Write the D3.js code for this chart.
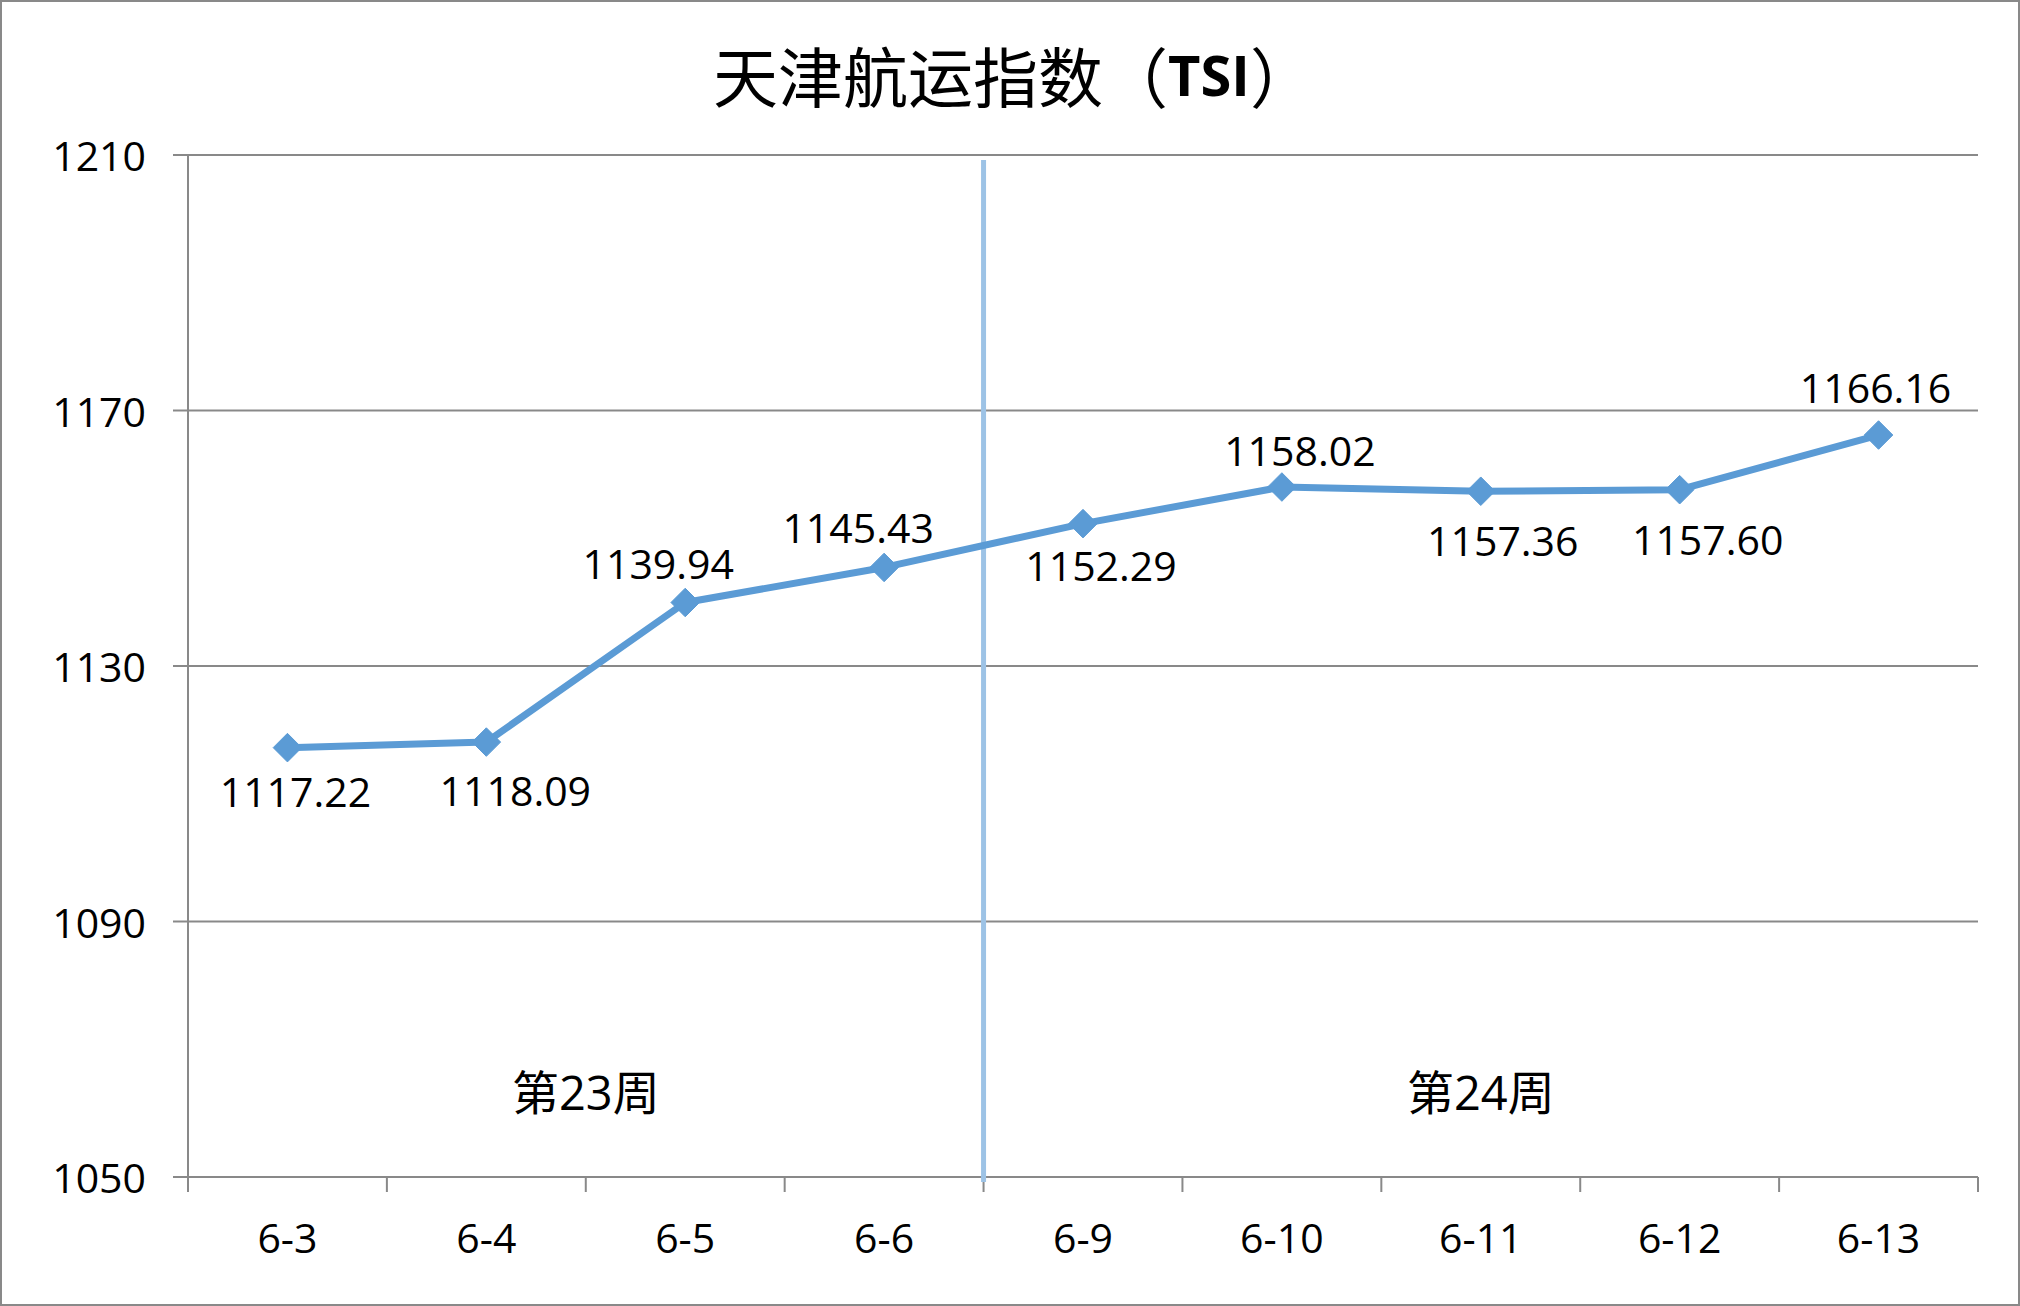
<!DOCTYPE html>
<html>
<head>
<meta charset="utf-8">
<script src="https://cdnjs.cloudflare.com/ajax/libs/d3/7.8.5/d3.min.js"></script>
<style>
  html, body { margin: 0; padding: 0; background: #fff; }
  svg { display: block; }
</style>
</head>
<body>
<svg id="chart" width="2020" height="1306"></svg>
<script>
// ---- data ----
const categories = ["6-3", "6-4", "6-5", "6-6", "6-9", "6-10", "6-11", "6-12", "6-13"];
const values = [1117.22, 1118.09, 1139.94, 1145.43, 1152.29, 1158.02, 1157.36, 1157.60, 1166.16];
const valueLabels = ["1117.22", "1118.09", "1139.94", "1145.43", "1152.29", "1158.02", "1157.36", "1157.60", "1166.16"];
const yTicks = [1050, 1090, 1130, 1170, 1210];
const weeks = [
  { name: "第23周", cats: ["6-3", "6-4", "6-5", "6-6"] },
  { name: "第24周", cats: ["6-9", "6-10", "6-11", "6-12", "6-13"] }
];
const titleMain = "天津航运指数（";
const titleBold = "TSI";
const titleEnd = "）";

// ---- layout (label offsets in px) ----
const labelDx = [8, 29, -27, -26, 18, 18, 22, 28, -3];
const labelDy = [43, 48, -40, -40, 41, -37, 49, 49, -48];

const W = 2020, H = 1306;
const pL = 188, pR = 1978, pT = 155, pB = 1177;
const numFont = "'Open Sans', 'Liberation Sans', sans-serif";
const cjkFont = "'Noto Sans CJK SC', sans-serif";
const gridColor = "#898989";
const lineColor = "#5B9BD5";

const svg = d3.select("#chart");

// outer border
svg.append("rect").attr("x", 1).attr("y", 1).attr("width", W - 2).attr("height", H - 2)
  .attr("fill", "#fff").attr("stroke", gridColor).attr("stroke-width", 2);

const x = d3.scaleBand().domain(categories).range([pL, pR]).paddingInner(0).paddingOuter(0);
const y = d3.scaleLinear().domain([1050, 1210]).range([pB, pT]);
const cx = c => x(c) + x.bandwidth() / 2;

// gridlines
svg.append("g").selectAll("line").data(yTicks).join("line")
  .attr("x1", pL - 15).attr("x2", pR)
  .attr("y1", d => y(d)).attr("y2", d => y(d))
  .attr("stroke", gridColor).attr("stroke-width", 2);

// y axis line
svg.append("line").attr("x1", pL).attr("x2", pL).attr("y1", pT).attr("y2", pB + 15)
  .attr("stroke", gridColor).attr("stroke-width", 2);

// y tick labels
svg.append("g").selectAll("text").data(yTicks).join("text")
  .attr("x", 146).attr("y", d => y(d))
  .attr("text-anchor", "end").attr("dominant-baseline", "central")
  .attr("font-family", numFont).attr("font-size", 41).attr("fill", "#000")
  .text(d => d);

// x axis ticks at band boundaries
const boundaries = categories.map(c => x(c)).concat([pR]);
svg.append("g").selectAll("line").data(boundaries).join("line")
  .attr("x1", d => d).attr("x2", d => d).attr("y1", pB).attr("y2", pB + 15)
  .attr("stroke", gridColor).attr("stroke-width", 2);

// x labels
svg.append("g").selectAll("text").data(categories).join("text")
  .attr("x", d => cx(d)).attr("y", pB + 60)
  .attr("text-anchor", "middle").attr("dominant-baseline", "central")
  .attr("font-family", numFont).attr("font-size", 41).attr("fill", "#000")
  .text(d => d);

// week separator
const sepX = x(weeks[1].cats[0]);
svg.append("line").attr("x1", sepX).attr("x2", sepX).attr("y1", pT + 5).attr("y2", pB + 5)
  .attr("stroke", "#9DC3E6").attr("stroke-width", 5);

// week labels
svg.append("g").selectAll("text").data(weeks).join("text")
  .attr("x", d => d3.mean(d.cats, cx))
  .attr("y", y(1063.3))
  .attr("text-anchor", "middle").attr("dominant-baseline", "central")
  .attr("font-family", "'Open Sans', 'Noto Sans CJK SC', sans-serif").attr("font-size", 47).attr("fill", "#000")
  .text(d => d.name);

// line
const pts = categories.map((c, i) => [cx(c), y(values[i])]);
svg.append("path").datum(pts)
  .attr("d", d3.line())
  .attr("fill", "none").attr("stroke", lineColor).attr("stroke-width", 7)
  .attr("stroke-linejoin", "round");

// diamond markers
const diamond = d3.symbol().type(d3.symbolDiamond2).size(520);
svg.append("g").selectAll("path").data(pts).join("path")
  .attr("d", diamond)
  .attr("transform", d => `translate(${d[0]},${d[1]})`)
  .attr("fill", lineColor).attr("stroke", lineColor).attr("stroke-width", 1);

// data labels
svg.append("g").selectAll("text").data(valueLabels).join("text")
  .attr("x", (d, i) => pts[i][0] + labelDx[i])
  .attr("y", (d, i) => pts[i][1] + labelDy[i])
  .attr("text-anchor", "middle").attr("dominant-baseline", "central")
  .attr("font-family", numFont).attr("font-size", 41).attr("fill", "#000")
  .text(d => d);

// title
const title = svg.append("text").attr("x", 1014).attr("y", 74)
  .attr("text-anchor", "middle").attr("dominant-baseline", "central")
  .attr("font-family", cjkFont).attr("font-size", 65).attr("fill", "#000");
title.append("tspan").text(titleMain);
title.append("tspan").attr("font-family", numFont).attr("font-weight", "bold").attr("font-size", 56).text(titleBold);
title.append("tspan").text(titleEnd);
</script>
</body>
</html>
